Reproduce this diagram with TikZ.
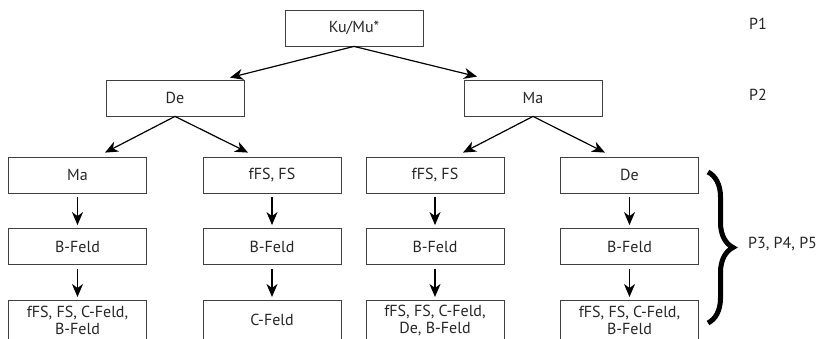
\documentclass[tikz,border=0pt]{standalone}
\usepackage{fontspec}
\setmainfont{PT Sans}
\usetikzlibrary{arrows.meta,decorations.pathreplacing}
\begin{document}
\begin{tikzpicture}[x=1pt,y=-1pt,
  box/.style={draw=black!75,line width=0.8pt,minimum width=138pt,minimum height=36pt,inner sep=0pt,align=center,font=\fontsize{16}{17}\selectfont,text=black!85},
  tall/.style={box,minimum height=40pt,anchor=north},
  arr/.style={line width=1.2pt,-{Stealth[length=13pt,width=11pt,inset=4pt]}},
  lab/.style={font=\fontsize{16}{20}\selectfont,text=black!85,inner sep=0pt}]
\useasboundingbox (0,0) rectangle (820,339);
\node[box] (top) at (354,28) {Ku/Mu*};
\node[box] (de2) at (175,98) {De};
\node[box] (ma2) at (533,98) {Ma};
\node[box] (a3) at (77.5,175) {Ma};
\node[box] (b3) at (272,175) {fFS, FS};
\node[box] (c3) at (435,175) {fFS, FS};
\node[box] (d3) at (629.5,175) {De};
\node[box] (a4) at (77.5,246.5) {B-Feld};
\node[box] (b4) at (272,246.5) {B-Feld};
\node[box] (c4) at (435,246.5) {B-Feld};
\node[box] (d4) at (629.5,246.5) {B-Feld};
\node[tall] (a5) at (77.5,300) {fFS, FS, C-Feld,\\B-Feld};
\node[tall] (b5) at (272,300) {C-Feld};
\node[tall] (c5) at (435,300) {fFS, FS, C-Feld,\\De, B-Feld};
\node[tall] (d5) at (629.5,300) {fFS, FS, C-Feld,\\B-Feld};
\node[lab] (p1) at (758,24) {P1};
\node[lab] (p2) at (758,95) {P2};
\coordinate (bt) at (708,172);
\coordinate (bb) at (708,323);
\node[lab,anchor=west] (p3) at (748,244) {P3, P4, P5};
\draw[arr] (top.south) -- ([xshift=55pt,yshift=2pt]de2.north);
\draw[arr] (top.south) -- ([xshift=-56pt,yshift=3pt]ma2.north);
\draw[arr] (de2.south) -- ([xshift=27.5pt,yshift=4pt]a3.north);
\draw[arr] (de2.south) -- ([xshift=-24pt,yshift=4pt]b3.north);
\draw[arr] (ma2.south) -- ([xshift=28pt,yshift=4pt]c3.north);
\draw[arr] (ma2.south) -- ([xshift=-24.5pt,yshift=4pt]d3.north);
\foreach \n in {a,b,c,d}{
  \draw[arr,shorten <=4pt,shorten >=3pt] (\n3.south) -- (\n4.north);
  \draw[arr,shorten <=4pt,shorten >=3pt] (\n4.south) -- (\n5.north);
}
\draw[line width=5pt,decorate,decoration={brace,amplitude=25pt}] (bt) -- (bb);
\end{tikzpicture}
\end{document}
